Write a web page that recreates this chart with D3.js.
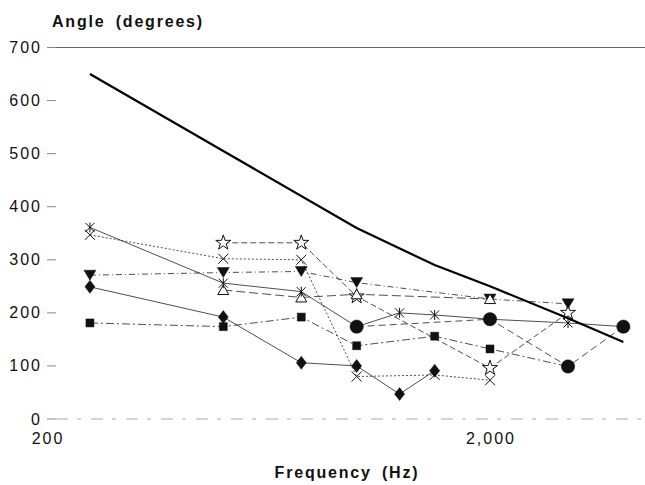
<!DOCTYPE html>
<html>
<head>
<meta charset="utf-8">
<script src="https://cdn.jsdelivr.net/npm/d3@7"></script>
<style>
  body { margin: 0; background: #fff; }
  text { font-family: "Liberation Sans", Arial, Helvetica, sans-serif; fill: #111; }
</style>
</head>
<body>
<div id="chart"></div>
<script>
const width = 645;
const height = 485;

// frequencies (Hz) where the measurements were taken
const freqs = [250, 500, 750, 1000, 1250, 1500, 2000, 3000, 4000];

// heavy reference curve
const limitAngle = [650, 505, null, 360, null, 290, 250, 190, 145];

// thin series, one value per frequency (null = no point)
const starSeries     = [null, 332, 332, 231, null, null, 96, 200, null];
const crossSeries    = [347, 302, 300, 80, null, 83, 73, null, null];
const diamondSeries  = [249, 192, 106, 100, 47, 91, null, null, null];
const squareSeries   = [181, 174, 192, 138, null, 156, 132, 99, null];
const triDownSeries  = [271, 276, 278, 257, null, null, 226, 217, null];
const asteriskSeries = [361, 256, 240, 174, 200, 196, 188, 181, 174];
const triUpSeries    = [null, 243, 229, 235, null, null, 226, null, null];
const circleSeries   = [null, null, null, 174, null, null, 188, 99, 174];

const yTicks = [0, 100, 200, 300, 400, 500, 600, 700];
const xTicks = [200, 2000];

const series = [
  { values: starSeries, marker: "star", dash: "6,3" },
  { values: crossSeries, marker: "cross", dash: "2,2" },
  { values: diamondSeries, marker: "diamond", dash: null },
  { values: squareSeries, marker: "square", dash: "8,3,2,3" },
  { values: triDownSeries, marker: "triDown", dash: "6,3,1,3" },
  { values: triUpSeries, marker: "triUp", dash: "9,4" },
  { values: asteriskSeries, marker: "asterisk", dash: null },
  { values: circleSeries, marker: "circle", dash: "7,4" }
];

const svg = d3.select("#chart")
  .append("svg")
  .attr("width", width)
  .attr("height", height);

const x = d3.scaleLog().domain([200, 2000]).range([47, 490]);
const y = d3.scaleLinear().domain([0, 700]).range([419, 47.5]);

// top grid line and broken baseline
svg.append("line")
  .attr("x1", 56).attr("x2", width)
  .attr("y1", y(700)).attr("y2", y(700))
  .attr("stroke", "#666").attr("stroke-width", 1);

svg.append("line")
  .attr("x1", 56).attr("x2", width)
  .attr("y1", y(0)).attr("y2", y(0))
  .attr("stroke", "#aaa").attr("stroke-width", 1)
  .attr("stroke-dasharray", "12,9,4,10");

// y axis labels with little tick dashes
const yAxis = svg.append("g");
yAxis.selectAll("line")
  .data(yTicks)
  .enter().append("line")
  .attr("x1", 47).attr("x2", 56)
  .attr("y1", d => y(d)).attr("y2", d => y(d))
  .attr("stroke", "#888").attr("stroke-width", 1);

yAxis.selectAll("text")
  .data(yTicks)
  .enter().append("text")
  .attr("x", 42)
  .attr("y", d => y(d) + 5.5)
  .attr("text-anchor", "end")
  .style("font-size", "16px")
  .style("letter-spacing", "2px")
  .text(d => d);

// x tick labels
svg.selectAll(".xlabel")
  .data(xTicks)
  .enter().append("text")
  .attr("class", "xlabel")
  .attr("x", d => x(d) + 1)
  .attr("y", 444)
  .attr("text-anchor", "middle")
  .style("font-size", "16px")
  .style("letter-spacing", "2px")
  .text(d => d3.format(",")(d));

// axis titles
svg.append("text")
  .attr("x", 52).attr("y", 27)
  .style("font-size", "16px")
  .style("font-weight", "bold")
  .style("letter-spacing", "1.8px")
  .style("word-spacing", "4px")
  .text("Angle (degrees)");

svg.append("text")
  .attr("x", 347).attr("y", 478)
  .attr("text-anchor", "middle")
  .style("font-size", "16px")
  .style("font-weight", "bold")
  .style("letter-spacing", "1.8px")
  .style("word-spacing", "4px")
  .text("Frequency (Hz)");

const toPoints = vals => freqs
  .map((f, i) => ({ f: f, v: vals[i] }))
  .filter(d => d.v !== null);

const line = d3.line()
  .x(d => x(d.f))
  .y(d => y(d.v));

// thin lines
svg.append("g").selectAll("path")
  .data(series)
  .enter().append("path")
  .attr("d", s => line(toPoints(s.values)))
  .attr("fill", "none")
  .attr("stroke", "#222")
  .attr("stroke-width", 0.8)
  .attr("stroke-dasharray", s => s.dash);

// marker shapes
function markerPath(type) {
  switch (type) {
    case "circle": return d3.symbol(d3.symbolCircle, 140)();
    case "square": return "M-4,-4H4V4H-4Z";
    case "diamond": return "M0,-6.5L5,0L0,6.5L-5,0Z";
    case "triDown": return "M-6,-5H6L0,5Z";
    case "triUp": return "M0,-5L5.5,4.5H-5.5Z";
    case "star": return d3.symbol(d3.symbolStar, 70)();
    case "cross": return "M-5,-5L5,5M-5,5L5,-5";
    case "asterisk": return "M-4.5,-4.5L4.5,4.5M-4.5,4.5L4.5,-4.5M0,-5V5";
  }
}

const filled = { circle: true, square: true, diamond: true, triDown: true };

series.forEach(s => {
  svg.append("g").selectAll("path")
    .data(toPoints(s.values))
    .enter().append("path")
    .attr("transform", d => `translate(${x(d.f)},${y(d.v)})`)
    .attr("d", markerPath(s.marker))
    .attr("fill", filled[s.marker] ? "#111" : (s.marker === "star" || s.marker === "triUp" ? "#fff" : "none"))
    .attr("stroke", "#111")
    .attr("stroke-width", filled[s.marker] ? 0.5 : 1);
});

// heavy reference curve on top
svg.append("path")
  .attr("d", line(toPoints(limitAngle)))
  .attr("fill", "none")
  .attr("stroke", "#000")
  .attr("stroke-width", 2.2);
</script>
</body>
</html>
